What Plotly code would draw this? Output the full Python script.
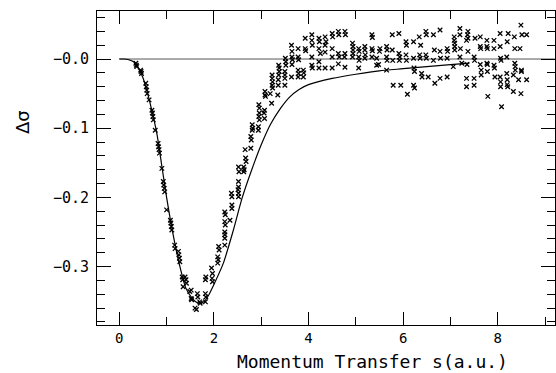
import plotly.graph_objects as go

exp_s = [
    0.35, 0.36, 0.37, 0.45, 0.46, 0.47, 0.56, 0.57, 0.58, 0.59, 0.63,
    0.69, 0.70, 0.71, 0.72, 0.76, 0.82, 0.83, 0.84, 0.85, 0.90,
    0.93, 0.94, 0.95, 0.96, 1.00, 1.08, 1.09, 1.10, 1.11, 1.17, 1.18,
    1.25, 1.26, 1.27, 1.28, 1.33, 1.34, 1.35, 1.39, 1.41, 1.42,
    1.49, 1.52, 1.52, 1.53, 1.60, 1.63, 1.65, 1.66, 1.70, 1.71,
    1.82, 1.83, 1.82, 1.83, 1.82, 1.95, 1.97, 1.96, 1.97,
    2.08, 2.09, 2.08, 2.10, 2.11, 2.23, 2.23, 2.23, 2.23, 2.23, 2.24,
    2.23, 2.24, 2.34, 2.38, 2.38, 2.38, 2.37,
    2.52, 2.52, 2.51, 2.52, 2.52, 2.52, 2.53,
    2.63, 2.64, 2.63, 2.66, 2.67, 2.68,
    2.78, 2.79, 2.78, 2.81, 2.82, 2.81, 2.94, 2.94,
    2.95, 2.96, 2.96, 2.95, 2.96, 3.07, 3.06, 3.07,
    3.08, 3.08, 3.09, 3.19, 3.22,
    3.23, 3.23, 3.24, 3.23, 3.24, 3.36, 3.36, 3.35,
    3.37, 3.38, 3.38, 3.37, 3.50, 3.50, 3.50, 3.50, 3.51, 3.52, 3.52,
    3.64, 3.65, 3.65, 3.66, 3.65, 3.64,
    3.78, 3.78, 3.79, 3.78, 3.79, 3.78,
    3.93, 3.93, 3.94, 3.89, 3.90, 3.89,
    4.07, 4.07, 4.08, 4.07, 4.07, 4.08,
    4.22, 4.23, 4.22, 4.25, 4.22, 4.22,
    4.35, 4.37, 4.35, 4.35, 4.35,
    4.50, 4.51, 4.50, 4.50, 4.50,
    4.63, 4.64, 4.63, 4.65, 4.63,
    4.77, 4.78, 4.77, 4.76, 4.77,
    4.93, 4.94, 4.94, 4.94, 4.93,
    5.06, 5.07, 5.06, 5.07, 5.06,
    5.19, 5.19, 5.20, 5.19,
    5.34, 5.35, 5.34, 5.35, 5.34, 5.44, 5.44,
    5.51, 5.50, 5.48,
    5.65, 5.66, 5.65, 5.66, 5.65,
    5.77, 5.77, 5.78, 5.79,
    5.91, 5.91, 5.93, 5.92, 5.95,
    6.06, 6.07, 6.06, 6.07, 6.09,
    6.22, 6.22, 6.23, 6.24, 6.22, 6.24,
    6.34, 6.37, 6.35, 6.36, 6.39, 6.40,
    6.48, 6.49, 6.48, 6.49, 6.53,
    6.64, 6.66, 6.64, 6.67,
    6.78, 6.78, 6.79, 6.78,
    6.93, 6.94, 6.93, 6.93,
    7.08, 7.08, 7.09, 7.09, 7.09, 7.06,
    7.20, 7.20, 7.21, 7.20, 7.24,
    7.34, 7.34, 7.34,
    7.37, 7.36, 7.37, 7.37, 7.35,
    7.52, 7.50, 7.50, 7.50, 7.51,
    7.63, 7.63, 7.64, 7.63, 7.65, 7.65,
    7.77, 7.77, 7.78, 7.77, 7.78, 7.78, 7.79,
    7.92, 7.93, 7.92, 7.92, 7.94,
    8.05, 8.05, 8.06, 8.07, 8.05, 8.06, 8.06, 8.08,
    8.19, 8.22, 8.20, 8.19, 8.20, 8.20, 8.21,
    8.35, 8.36, 8.37, 8.37, 8.33, 8.33, 8.36,
    8.44, 8.47, 8.49, 8.51, 8.61, 8.50, 8.50, 8.49, 8.61,
]
exp_dsigma = [
    -0.006, -0.009, -0.011, -0.016, -0.018, -0.021, -0.035, -0.040, -0.045, -0.050, -0.059,
    -0.074, -0.078, -0.083, -0.088, -0.103, -0.122, -0.127, -0.131, -0.136, -0.158,
    -0.177, -0.182, -0.187, -0.192, -0.218, -0.233, -0.237, -0.242, -0.247, -0.269, -0.274,
    -0.278, -0.283, -0.288, -0.293, -0.315, -0.319, -0.329, -0.315, -0.319, -0.324,
    -0.336, -0.334, -0.346, -0.348, -0.360, -0.362, -0.339, -0.344, -0.351, -0.353,
    -0.339, -0.344, -0.351, -0.315, -0.319, -0.302, -0.310, -0.317, -0.322,
    -0.286, -0.290, -0.295, -0.271, -0.276, -0.269, -0.250, -0.254, -0.259, -0.235, -0.240,
    -0.221, -0.225, -0.233, -0.199, -0.211, -0.216, -0.194,
    -0.177, -0.185, -0.189, -0.194, -0.199, -0.156, -0.163,
    -0.156, -0.160, -0.163, -0.131, -0.143, -0.148,
    -0.112, -0.117, -0.129, -0.095, -0.100, -0.103, -0.098, -0.103,
    -0.066, -0.071, -0.078, -0.083, -0.088, -0.074, -0.078, -0.086,
    -0.047, -0.052, -0.054, -0.050, -0.064,
    -0.023, -0.028, -0.033, -0.038, -0.042, -0.030, -0.038, -0.052,
    -0.009, -0.013, -0.018, -0.023, -0.018, -0.023, -0.028, -0.038, 0.001, -0.004, -0.009,
    0.020, 0.011, 0.003, -0.001, -0.008, -0.026,
    0.015, 0.003, -0.001, -0.016, -0.021, -0.026,
    0.030, 0.015, 0.012, -0.016, -0.020, -0.026,
    0.035, 0.027, 0.020, 0.003, -0.009, -0.013,
    0.030, 0.025, 0.015, 0.008, -0.004, -0.013,
    0.032, 0.025, 0.020, 0.010, -0.013,
    0.037, 0.032, 0.015, 0.003, -0.013,
    0.040, 0.035, 0.008, 0.003, -0.007,
    0.040, 0.035, 0.008, 0.003, -0.012,
    0.023, 0.018, 0.013, 0.008, 0.003,
    0.015, 0.011, 0.003, -0.002, -0.013,
    0.018, 0.013, 0.006, 0.001,
    0.035, 0.031, 0.015, 0.012, 0.003, 0.001, -0.009,
    0.015, 0.011, -0.008,
    0.018, 0.013, 0.003, -0.002, -0.016,
    0.035, 0.013, -0.002, -0.038,
    0.037, 0.008, 0.003, -0.002, -0.038,
    0.025, 0.020, 0.006, -0.002, -0.051,
    0.025, 0.001, -0.013, -0.018, -0.038, -0.042,
    0.032, 0.020, 0.006, 0.001, -0.021, -0.026,
    0.040, 0.035, 0.006, 0.001, -0.026,
    0.035, 0.013, -0.002, -0.035,
    0.042, 0.011, 0.001, -0.028,
    0.015, 0.011, 0.001, -0.026,
    0.032, 0.027, 0.023, 0.018, 0.013, -0.011,
    0.044, 0.035, 0.015, 0.003, -0.006,
    0.027, -0.028, -0.040,
    0.040, 0.035, 0.030, 0.011, -0.008,
    0.030, -0.028, -0.038, 0.003, -0.002,
    0.032, 0.018, 0.015, -0.008, -0.016, -0.023,
    0.027, 0.018, 0.015, -0.006, -0.008, -0.018, -0.054,
    -0.009, -0.013, 0.027, 0.015, -0.026,
    0.037, 0.018, 0.001, -0.002, -0.026, -0.033, -0.040, -0.069,
    0.003, 0.037, 0.025, -0.021, -0.030, -0.037, -0.040,
    0.032, -0.006, -0.011, -0.016, -0.023, -0.047, 0.015,
    -0.030, 0.015, 0.049, 0.035, 0.035, -0.016, -0.018, -0.050, -0.030,
]

theory_s = [0.0, 0.1, 0.2, 0.3, 0.4, 0.5, 0.6, 0.7, 0.8, 0.9, 1.0, 1.1, 1.2,
            1.3, 1.4, 1.5, 1.6, 1.7, 1.8, 1.9, 2.0, 2.2, 2.4, 2.6, 2.8, 3.0,
            3.2, 3.4, 3.6, 3.8, 4.0, 4.5, 5.0, 5.5, 6.0, 6.5, 7.0, 7.4]
theory_dsigma = [0.0, 0.0, -0.001, -0.004, -0.013, -0.027, -0.050, -0.078,
                 -0.110, -0.155, -0.200, -0.240, -0.275, -0.305, -0.330,
                 -0.342, -0.350, -0.353, -0.350, -0.340, -0.326, -0.295,
                 -0.250, -0.200, -0.160, -0.124, -0.094, -0.072, -0.055,
                 -0.044, -0.037, -0.028, -0.022, -0.017, -0.014, -0.011,
                 -0.008, -0.006]

x_tickvals = [0, 2, 4, 6, 8]
x_ticktext = ["0", "2", "4", "6", "8"]
y_tickvals = [-0.3, -0.2, -0.1, 0.0]
y_ticktext = ["−0.3", "−0.2", "−0.1", "−0.0"]

fig = go.Figure()

fig.add_shape(type="line", xref="x", yref="y", x0=0, x1=9.21, y0=0, y1=0,
              line=dict(color="#555555", width=1), layer="below")

fig.add_trace(go.Scatter(
    x=theory_s, y=theory_dsigma, mode="lines",
    line=dict(color="black", width=1.2, shape="spline", smoothing=0.6),
    showlegend=False, hoverinfo="skip"))

fig.add_trace(go.Scatter(
    x=exp_s, y=exp_dsigma, mode="markers",
    marker=dict(symbol="x-thin", size=4.5, color="black",
                line=dict(color="black", width=1.3)),
    showlegend=False))

axis_font = dict(family="DejaVu Sans Mono", size=15, color="black")

fig.update_layout(
    width=556, height=373,
    margin=dict(l=97, r=1, t=11, b=48, autoexpand=False),
    paper_bgcolor="white", plot_bgcolor="white",
    xaxis=dict(range=[-0.471, 9.21], tickvals=x_tickvals, ticktext=x_ticktext,
               automargin=False,
               showgrid=False, zeroline=False, showline=True, linecolor="black",
               linewidth=1, mirror="allticks", ticks="inside", ticklen=13,
               tickwidth=1, tickcolor="black",
               tickfont=dict(family="DejaVu Sans Mono", size=14, color="black"),
               minor=dict(tickvals=[1, 3, 5, 7, 9], ticks="inside", ticklen=8,
                          tickwidth=1, tickcolor="black", showgrid=False)),
    yaxis=dict(range=[-0.3844, 0.0694], tickvals=y_tickvals, ticktext=y_ticktext,
               automargin=False,
               showgrid=False, zeroline=False, showline=True, linecolor="black",
               linewidth=1, mirror="allticks", ticks="inside", ticklen=14,
               tickwidth=1, tickcolor="black", tickfont=axis_font,
               ticklabelstandoff=4,
               minor=dict(tickvals=[-0.38, -0.36, -0.34, -0.32, -0.28, -0.26,
                                    -0.24, -0.22, -0.18, -0.16, -0.14, -0.12,
                                    -0.08, -0.06, -0.04, -0.02, 0.02, 0.04, 0.06],
                          ticks="inside", ticklen=8, tickwidth=1,
                          tickcolor="black", showgrid=False)),
    annotations=[
        dict(text="Momentum Transfer s(a.u.)", xref="paper", yref="paper",
             x=(372 - 97) / 458, y=-(361 - 325) / 314, xanchor="center",
             yanchor="middle", showarrow=False,
             font=dict(family="DejaVu Sans Mono", size=18, color="black")),
        dict(text="Δσ", xref="paper", yref="paper",
             x=-(97 - 22) / 458, y=(325 - 122) / 314, xanchor="center",
             yanchor="middle", showarrow=False, textangle=-90,
             font=dict(family="DejaVu Sans", size=18, color="black")),
    ],
)

fig.write_html("out.html", config={"displayModeBar": False},
               post_script="document.body.style.margin='0';document.body.style.padding='0';")
